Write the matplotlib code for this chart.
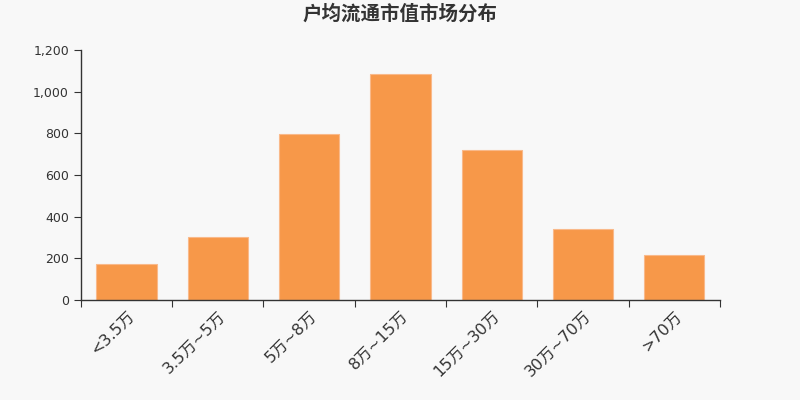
import matplotlib
matplotlib.use("Agg")
import matplotlib.pyplot as plt
import numpy as np
from matplotlib.ticker import FuncFormatter

plt.rcParams['font.family'] = ['DejaVu Sans', 'Noto Sans CJK SC']

categories = ['<3.5万', '3.5万~5万', '5万~8万', '8万~15万', '15万~30万', '30万~70万', '>70万']
counts = [171, 304, 795, 1083, 720, 339, 214]
title = '户均流通市值市场分布'

bg = '#f8f8f8'
bar_color = '#f79849'
text_color = '#333333'

fig = plt.figure(figsize=(8, 4), dpi=100, facecolor=bg)
ax = fig.add_axes([0.101, 0.25, 0.799, 0.625], facecolor=bg)

x = np.arange(len(categories))
ax.bar(x, counts, width=0.66, color=bar_color, edgecolor='#f9b98a', linewidth=0.8)

ax.set_xlim(-0.5, len(categories) - 0.5)
ax.set_ylim(0, 1200)
ax.set_yticks(np.arange(0, 1201, 200))
ax.yaxis.set_major_formatter(FuncFormatter(lambda v, p: f'{int(v):,}'))

# boundary ticks as major (no label), category labels on minor
ax.set_xticks(np.arange(-0.5, len(categories), 1))
ax.set_xticklabels([])
ax.set_xticks(x, minor=True)
ax.set_xticklabels(categories, minor=True, rotation=45, ha='right',
                   rotation_mode='anchor', fontsize=11.5, color=text_color)
ax.tick_params(axis='x', which='major', length=5, color=text_color)
ax.tick_params(axis='x', which='minor', length=0, pad=6)
ax.tick_params(axis='y', length=5, color=text_color, labelsize=9, labelcolor=text_color)

for s in ['top', 'right']:
    ax.spines[s].set_visible(False)
for s in ['left', 'bottom']:
    ax.spines[s].set_color(text_color)
    ax.spines[s].set_linewidth(1)

fig.text(0.5, 0.965, title, ha='center', va='center', fontsize=14,
         fontweight='bold', color=text_color, family=['Noto Sans CJK SC'])

fig.savefig('out.png', dpi=100, facecolor=bg)
